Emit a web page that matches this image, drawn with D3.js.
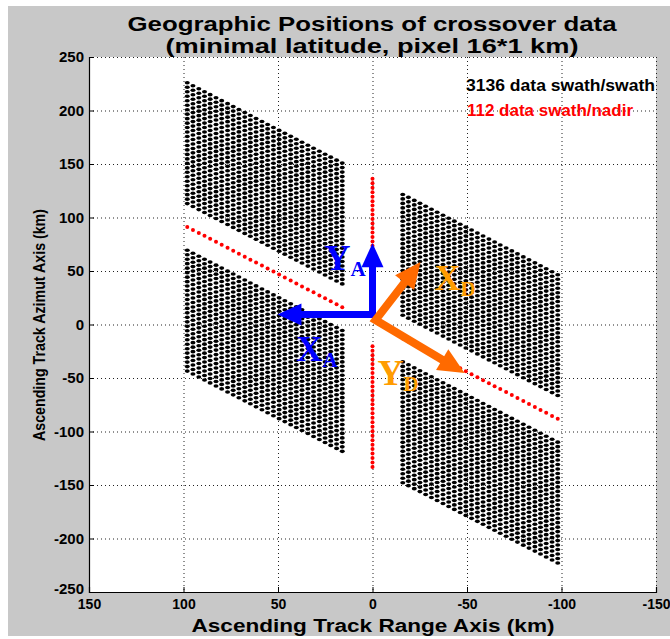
<!DOCTYPE html>
<html>
<head>
<meta charset="utf-8">
<script src="https://cdn.jsdelivr.net/npm/d3@7"></script>
<style>
  html, body { margin: 0; padding: 0; background: #ffffff; }
  svg { display: block; }
</style>
</head>
<body>
<svg id="chart" width="670" height="639"></svg>
<script>
// ---------------- data ----------------
const xTicks = [150, 100, 50, 0, -50, -100, -150];
const yTicks = [250, 200, 150, 100, 50, 0, -50, -100, -150, -200, -250];

// ascending-swath range columns (km from ascending nadir), 28 columns
const rangeColumnsKm = [16.0, 19.0, 22.1, 25.1, 28.1, 31.2, 34.2, 37.3, 40.3, 43.3,
  46.4, 49.4, 52.4, 55.5, 58.5, 61.6, 64.6, 67.6, 70.7, 73.7,
  76.7, 79.8, 82.8, 85.9, 88.9, 91.9, 95.0, 98.0];
// descending-swath cells, vertical offset (km) from the descending nadir, 28 rows
const descOffsetsKm = [21.8, 26.0, 30.2, 34.3, 38.5, 42.7, 46.9, 51.1, 55.2, 59.4,
  63.6, 67.8, 72.0, 76.1, 80.3, 84.5, 88.7, 92.9, 97.0, 101.2,
  105.4, 109.6, 113.8, 117.9, 122.1, 126.3, 130.5, 134.7];
// descending nadir track in ascending frame: y = slope * x + intercept
const descSlope = [0.915];
const descIntercept = [1.5];
const sides = [1, -1];

const legendLabels = ["3136 data swath/swath", "112 data swath/nadir"];
const titleLines = ["Geographic Positions of crossover data", "(minimal latitude, pixel 16*1 km)"];

// annotation arrows (data units)
const blueCorner = [0, 9.3];
const blueTips = [[0, 76], [50.3, 9.3]];          // Y_A, X_A
const orangeCorner = [-1.6, 4.2];
const orangeTips = [[-25.4, 58.4], [-48.7, -45.3]]; // X_D, Y_D
const axisLabels = [
  { main: "Y", sub: "A", pos: [25.4, 50.9], color: "#0000ff" },
  { main: "X", sub: "A", pos: [40.2, -34.1], color: "#0000ff" },
  { main: "X", sub: "D", pos: [-32.8, 32.2], color: "#ff9c00" },
  { main: "Y", sub: "D", pos: [-2.6, -56.5], color: "#ff9c00" }
];

// ---------------- build point sets ----------------
const swathPts = [];
sides.forEach(sx => sides.forEach(so => {
  rangeColumnsKm.forEach(c => descOffsetsKm.forEach(o => {
    const x = sx * c;
    swathPts.push([x, descSlope[0] * x + descIntercept[0] + so * o]);
  }));
}));
const nadirPts = [];
sides.forEach(so => descOffsetsKm.forEach(o => nadirPts.push([0, descIntercept[0] + so * o])));
sides.forEach(sx => rangeColumnsKm.forEach(c => {
  const x = sx * c;
  nadirPts.push([x, descSlope[0] * x + descIntercept[0]]);
}));

// ---------------- drawing ----------------
const svg = d3.select("#chart");
const L = 89, R = 656, T = 57, B = 592;
const x = d3.scaleLinear().domain([150, -150]).range([L, R]);
const y = d3.scaleLinear().domain([-250, 250]).range([B, T]);

svg.append("rect").attr("x", 8).attr("y", 6).attr("width", 662).attr("height", 630).attr("fill", "#c8c8c8");
svg.append("rect").attr("x", L).attr("y", T).attr("width", R - L).attr("height", B - T).attr("fill", "#ffffff");

// grid
const grid = svg.append("g").attr("stroke", "#222").attr("stroke-width", 1).attr("stroke-dasharray", "1,3");
xTicks.forEach(t => grid.append("line").attr("x1", x(t) + 0.5).attr("x2", x(t) + 0.5).attr("y1", T).attr("y2", B));
yTicks.forEach(t => grid.append("line").attr("y1", y(t) + 0.5).attr("y2", y(t) + 0.5).attr("x1", L).attr("x2", R));

// swath/swath points
svg.append("g").selectAll("ellipse").data(swathPts).join("ellipse")
  .attr("cx", d => x(d[0])).attr("cy", d => y(d[1]))
  .attr("rx", 2.5).attr("ry", 1.8).attr("fill", "#000");

// swath/nadir points
svg.append("g").selectAll("circle").data(nadirPts).join("circle")
  .attr("cx", d => x(d[0])).attr("cy", d => y(d[1]))
  .attr("r", 2).attr("fill", "#ff0000");

// axes
const fontSans = "'Liberation Sans', Arial, sans-serif";
const xAxis = d3.axisBottom(x).tickValues(xTicks).tickSize(-5).tickPadding(7).tickFormat(d3.format("d"));
const yAxis = d3.axisLeft(y).tickValues(yTicks).tickSize(-5).tickPadding(5).tickFormat(d3.format("d"));
const gx = svg.append("g").attr("transform", `translate(0,${B})`).call(xAxis);
const gy = svg.append("g").attr("transform", `translate(${L},0)`).call(yAxis);
[gx, gy].forEach(g => {
  g.select(".domain").attr("stroke", "#000").attr("stroke-width", 1.2);
  g.selectAll(".tick line").attr("stroke", "#000");
  g.selectAll("text").attr("fill", "#000").style("font-family", fontSans)
    .style("font-weight", "bold").style("font-size", "15px");
});
gx.selectAll("text").style("font-size", "14px").text(d => String(d));
gy.selectAll("text").text(d => String(d));
gy.selectAll(".tick").filter(d => d === -250).select("text").attr("dy", "0.1em");

// arrows
function head(g, from, to, len, wid, color) {
  const x0 = x(from[0]), y0 = y(from[1]), x1 = x(to[0]), y1 = y(to[1]);
  const dx = x1 - x0, dy = y1 - y0, n = Math.hypot(dx, dy), ux = dx / n, uy = dy / n;
  const bx = x1 - ux * len, by = y1 - uy * len;
  g.append("polygon").attr("points", [
    [x1, y1], [bx - uy * wid / 2, by + ux * wid / 2], [bx + uy * wid / 2, by - ux * wid / 2]
  ].map(p => p.join(",")).join(" ")).attr("fill", color);
  return [bx + ux * 1, by + uy * 1];
}
function arrowPair(corner, tips, color, w, len, wid) {
  const g = svg.append("g");
  const bases = tips.map(t => head(g, corner, t, len, wid, color));
  g.insert("path", ":first-child")
    .attr("d", `M${bases[0][0]},${bases[0][1]} L${x(corner[0])},${y(corner[1])} L${bases[1][0]},${bases[1][1]}`)
    .attr("fill", "none").attr("stroke", color).attr("stroke-width", w).attr("stroke-linejoin", "miter");
}
arrowPair(blueCorner, blueTips, "#0000ff", 7, 24, 22);
arrowPair(orangeCorner, orangeTips, "#ff6a00", 8, 26, 24);

// arrow labels
const fontSerif = "'Liberation Serif', 'Times New Roman', serif";
axisLabels.forEach(a => {
  const t = svg.append("text").attr("x", x(a.pos[0])).attr("y", y(a.pos[1]))
    .attr("fill", a.color).style("font-family", fontSerif).style("font-weight", "bold");
  t.append("tspan").style("font-size", "36px").text(a.main);
  t.append("tspan").style("font-size", "21px").attr("dy", 6).text(a.sub);
});

// legend texts
svg.append("text").attr("x", 466).attr("y", 91).attr("textLength", 189).attr("lengthAdjust", "spacingAndGlyphs")
  .style("font-family", fontSans).style("font-weight", "bold").style("font-size", "17px").attr("fill", "#000").text(legendLabels[0]);
svg.append("text").attr("x", 467).attr("y", 116).attr("textLength", 166).attr("lengthAdjust", "spacingAndGlyphs")
  .style("font-family", fontSans).style("font-weight", "bold").style("font-size", "17px").attr("fill", "#ff0000").text(legendLabels[1]);

// title
svg.append("text").attr("x", 372).attr("y", 31).attr("text-anchor", "middle").attr("textLength", 489).attr("lengthAdjust", "spacingAndGlyphs")
  .style("font-family", fontSans).style("font-weight", "bold").style("font-size", "21px").text(titleLines[0]);
svg.append("text").attr("x", 372).attr("y", 53).attr("text-anchor", "middle").attr("textLength", 413).attr("lengthAdjust", "spacingAndGlyphs")
  .style("font-family", fontSans).style("font-weight", "bold").style("font-size", "21px").text(titleLines[1]);

// axis titles
svg.append("text").attr("x", 373).attr("y", 632).attr("text-anchor", "middle").attr("textLength", 363).attr("lengthAdjust", "spacingAndGlyphs")
  .style("font-family", fontSans).style("font-weight", "bold").style("font-size", "18px").text("Ascending Track Range Axis (km)");
svg.append("text").attr("transform", "translate(45,325) rotate(-90)").attr("text-anchor", "middle").attr("textLength", 232).attr("lengthAdjust", "spacingAndGlyphs")
  .style("font-family", fontSans).style("font-weight", "bold").style("font-size", "17px").text("Ascending Track Azimut Axis (km)");
</script>
</body>
</html>
